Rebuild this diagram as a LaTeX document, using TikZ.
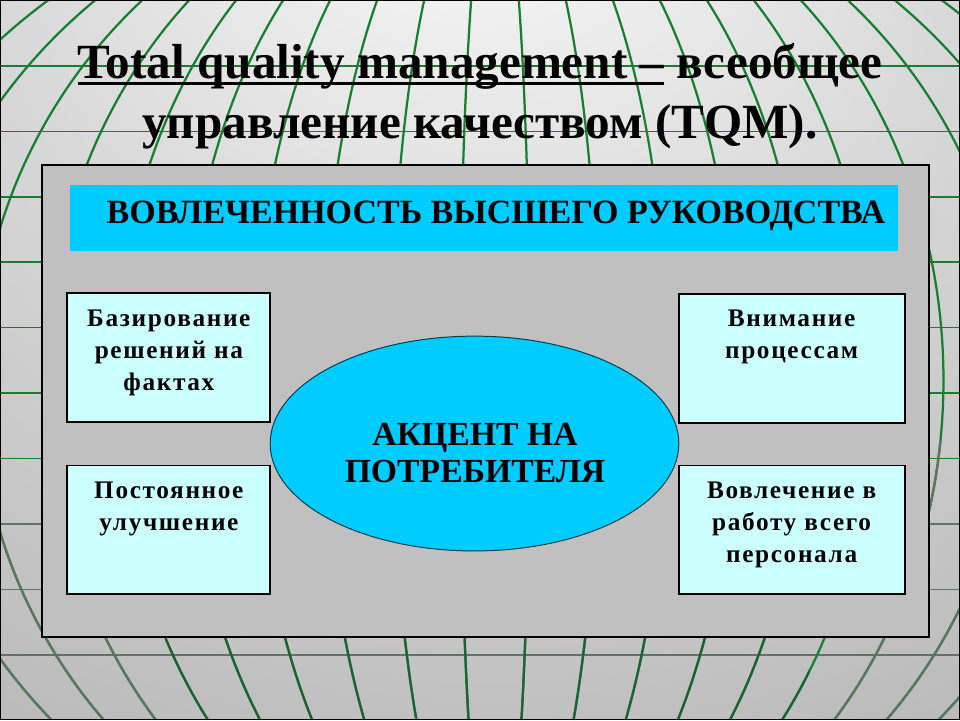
\documentclass[tikz,border=0pt]{standalone}
\usepackage{fontspec}
\setmainfont{Liberation Serif}
\usetikzlibrary{positioning, shapes.geometric}

\definecolor{PanelGrey}{HTML}{C0C0C0}
\definecolor{BannerBlue}{HTML}{00CCFF}
\definecolor{BoxCyan}{HTML}{CCFFFF}
\definecolor{GridGreen}{HTML}{168030}
\definecolor{GridDark}{HTML}{1D6232}
\definecolor{GridGrey}{HTML}{5F7564}
\definecolor{BackLight}{HTML}{FCFCFC}
\definecolor{BackMid}{HTML}{D8D8D8}
\definecolor{BackEdge}{HTML}{BABABA}
\definecolor{BackDark}{HTML}{9A9A9A}

\pgfdeclareradialshading{slideback}{\pgfpoint{0bp}{36bp}}{%
  color(0bp)=(BackLight); color(25bp)=(BackMid); color(50bp)=(BackEdge); color(100bp)=(BackDark)}

\newsavebox{\ulbox}
\newcommand{\titleul}[1]{\sbox{\ulbox}{#1}\rlap{\rule[-4.5pt]{\wd\ulbox}{1.8pt}}\usebox{\ulbox}}

\begin{document}
\begin{tikzpicture}[x=0.025cm, y=-0.025cm,
    cellbox/.style={draw=black, line width=1.4pt, fill=BoxCyan, minimum height=3.225cm, inner sep=0pt},
    celltext/.style={align=center, inner sep=0pt, font=\fontsize{18}{22.8}\selectfont\bfseries\addfontfeature{LetterSpace=6.5}}]
  % background with the globe grid
  \shade[shading=slideback] (0,0) rectangle (960,720);
  \begin{scope}
    \clip (0,0) rectangle (960,720);
    \foreach \k in {1,...,7}
      \draw[GridGreen, line width=1.1pt] (0,65.5*\k) -- (960,65.5*\k);
    \foreach \k in {8,...,10}
      \draw[GridGrey, line width=1.1pt] (0,65.5*\k) -- (960,65.5*\k);
    \foreach \k in {0,...,9}
      \draw[GridGreen, line width=1.6pt] (495,380) ellipse [x radius=35+69*\k, y radius=520];
  \end{scope}
  \begin{scope}
    \clip (165,600) rectangle (810,720);
    \foreach \k in {0,...,9}
      \draw[GridDark, line width=1.6pt] (495,380) ellipse [x radius=35+69*\k, y radius=520];
  \end{scope}
  \begin{scope}
    \clip (0,440) rectangle (165,720) (810,440) rectangle (960,720);
    \foreach \k in {6,...,9}
      \draw[GridGrey, line width=1.6pt] (495,380) ellipse [x radius=35+69*\k, y radius=520];
  \end{scope}
  \draw[line width=0.8pt] (0,0) rectangle (960,720);

  % title
  \node[anchor=base, font=\fontsize{35}{42}\selectfont\bfseries] (title) at (480,78)
    {\titleul{Total quality management –} всеобщее};
  \node[anchor=base, font=\fontsize{35}{42}\selectfont\bfseries] (subtitle) at (480,138)
    {управление качеством (TQM).};

  % panel
  \node[draw=black, line width=1.4pt, fill=PanelGrey, minimum width=22.175cm, minimum height=11.8cm, inner sep=0pt] (panel) at (485.5,401) {};
  \node[fill=BannerBlue, minimum width=20.7cm, minimum height=1.65cm, inner sep=0pt] (banner) at (484,218) {};
  \node[font=\fontsize{24.2}{28}\selectfont\bfseries] (bannertext) at (496,216) {ВОВЛЕЧЕННОСТЬ ВЫСШЕГО РУКОВОДСТВА};

  % four principles
  \node[cellbox, minimum width=5.075cm] (facts) at (168.5,357.5) {};
  \node[celltext, below=0.425cm of facts.north] (factstext) {Базирование\\решений на\\фактах};
  \node[cellbox, minimum width=5.075cm] (improve) at (168.5,530) {};
  \node[celltext, below=0.425cm of improve.north] (improvetext) {Постоянное\\улучшение};
  \node[cellbox, minimum width=5.65cm] (process) at (792,358) {};
  \node[celltext, below=0.425cm of process.north] (processtext) {Внимание\\процессам};
  \node[cellbox, minimum width=5.65cm] (staff) at (792,530) {};
  \node[celltext, below=0.425cm of staff.north] (stafftext) {Вовлечение в\\работу всего\\персонала};

  % customer focus
  \node[ellipse, draw=black!70!BannerBlue, line width=0.7pt, fill=BannerBlue, minimum width=10.225cm, minimum height=5.375cm, inner sep=0pt] (client) at (474.5,443.5) {};
  \node[align=center, inner sep=0pt, font=\fontsize{24}{27}\selectfont\bfseries] (clienttext) at (475,453) {АКЦЕНТ НА\\ПОТРЕБИТЕЛЯ};
\end{tikzpicture}
\end{document}
